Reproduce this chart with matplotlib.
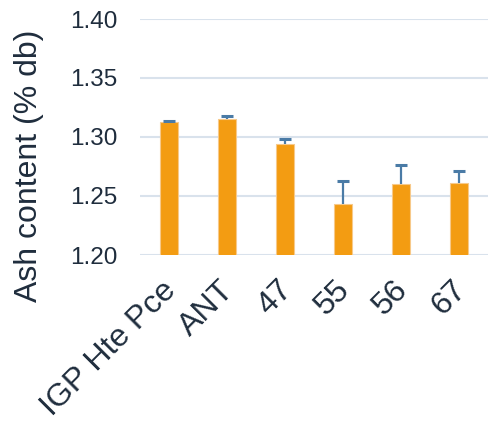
import matplotlib.pyplot as plt
from matplotlib.transforms import ScaledTranslation

samples = ["IGP Hte Pce", "ANT", "47", "55", "56", "67"]
ash = [1.3126, 1.3155, 1.2940, 1.2428, 1.2600, 1.2608]
err = [0.0006, 0.0023, 0.0045, 0.0200, 0.0166, 0.0104]

plt.rcParams['font.family'] = ['Liberation Sans', 'DejaVu Sans']
txt = "#1F2D3D"
ecol = "#4A7BA6"

fig = plt.figure(figsize=(4.88, 4.22), dpi=100)
ax = fig.add_axes([140 / 488, 1 - 255 / 422, 348 / 488, 236 / 422])

x = list(range(len(samples)))
tops = [a + e for a, e in zip(ash, err)]
ax.bar(x, ash, width=0.31, color="#F39C12", edgecolor="#F7C98A", linewidth=0.8, zorder=3)
ax.vlines(x, ash, tops, color=ecol, linewidth=1.6, zorder=4)
ax.plot(x, tops, linestyle="none", marker="_", markersize=9, markeredgewidth=2.2,
        color=ecol, zorder=4)

ax.set_xlim(-0.5, len(samples) - 0.5)
ax.set_ylim(1.20, 1.40)
ax.set_yticks([1.20, 1.25, 1.30, 1.35, 1.40])
ax.set_yticklabels(["1.20", "1.25", "1.30", "1.35", "1.40"])
ax.grid(axis="y", color="#D9E2EC", linewidth=1.5, zorder=0)
for s in ax.spines.values():
    s.set_visible(False)

ax.tick_params(axis="y", length=0, pad=16, labelsize=17.5, labelcolor=txt)
ax.tick_params(axis="x", length=0, pad=18, labelsize=23, labelcolor=txt)
ax.set_xticks(x)
ax.set_xticklabels(samples, rotation=45, ha="right", va="top", rotation_mode="anchor")
shift = ScaledTranslation(-8 / 100, 5 / 100, fig.dpi_scale_trans)
for lab in ax.get_xticklabels():
    lab.set_transform(lab.get_transform() + shift)

ax.set_ylabel("Ash content (% db)", fontsize=23, color=txt)
ax.yaxis.set_label_coords(-0.275, 0.38)

fig.savefig("out.png", dpi=100)
